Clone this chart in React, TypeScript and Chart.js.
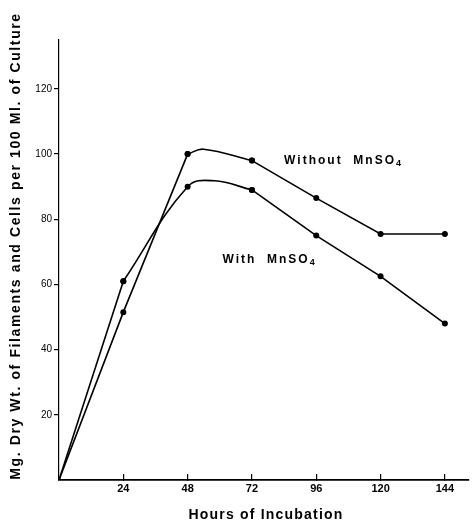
import React, { useEffect, useRef } from 'react';
import { Chart, registerables } from 'chart.js';

Chart.register(...registerables);

// ---- data ----
const hours = [0, 24, 48, 72, 96, 120, 144];
const withoutMnSO4 = [0, 51.5, 100, 98, 86.5, 75.5, 75.5];
const withMnSO4 = [0, 61, 90, 89, 75, 62.5, 48];
// crest of the smooth arc drawn between the 48 h and 72 h points
const withoutCrest = [54, 101.5];
const withCrest = [58, 91.8];

const xTicks = [24, 48, 72, 96, 120, 144];
const yTicks = [20, 40, 60, 80, 100, 120];
const xMax = 153;
const yMax = 135;

const xTitle = 'Hours of Incubation';
const yTitle = 'Mg. Dry Wt. of Filaments and Cells per 100 Ml. of Culture';
const labelWithout = ['Without  MnSO', '4'];
const labelWith = ['With  MnSO', '4'];
const labelWithoutAt = [84, 98];
const labelWithAt = [61, 67.5];

const FONT = "'Liberation Sans', Arial, sans-serif";
const INK = '#000';

type P = { x: number; y: number; crest?: boolean };

function pts(series: number[], from: number, to: number): P[] {
  const out: P[] = [];
  for (let i = from; i <= to; i++) out.push({ x: hours[i], y: series[i] });
  return out;
}

function crestPt(c: number[]): P {
  return { x: c[0], y: c[1], crest: true };
}

const radius = (ctx: any) => {
  const r = ctx.raw as P;
  return !r || r.crest || r.x === 0 ? 0 : 3;
};

function lineDs(data: P[], tension: number) {
  return {
    data,
    showLine: true,
    tension,
    borderColor: INK,
    borderWidth: 1.6,
    backgroundColor: INK,
    pointBackgroundColor: INK,
    pointBorderColor: INK,
    pointBorderWidth: 0,
    pointRadius: radius,
  };
}

function drawSpaced(ctx: CanvasRenderingContext2D, text: string, cx: number, cy: number, width: number) {
  (ctx as any).letterSpacing = '0px';
  const w0 = ctx.measureText(text).width;
  const n = Math.max(text.length - 1, 1);
  const ls = (width - w0) / n;
  (ctx as any).letterSpacing = ls.toFixed(2) + 'px';
  const w = ctx.measureText(text).width;
  ctx.textAlign = 'left';
  ctx.fillText(text, cx - w / 2, cy);
  (ctx as any).letterSpacing = '0px';
}

const textPlugin = {
  id: 'figureText',
  afterDraw(chart: any) {
    const { ctx, scales } = chart;
    const xs = scales.x;
    const ys = scales.y;
    ctx.save();
    ctx.fillStyle = INK;
    ctx.textBaseline = 'middle';

    // y axis title (rotated)
    ctx.save();
    ctx.translate(16, 246);
    ctx.rotate(-Math.PI / 2);
    ctx.font = `bold 14px ${FONT}`;
    drawSpaced(ctx, yTitle, 0, 0, 466);
    ctx.restore();

    // x axis title
    ctx.font = `bold 14px ${FONT}`;
    drawSpaced(ctx, xTitle, 266, 515, 154);

    // curve labels
    const drawLabel = (parts: string[], at: number[]) => {
      const px = xs.getPixelForValue(at[0]);
      const py = ys.getPixelForValue(at[1]);
      ctx.textAlign = 'left';
      ctx.font = `bold 12px ${FONT}`;
      (ctx as any).letterSpacing = '2px';
      ctx.fillText(parts[0], px, py);
      const w = ctx.measureText(parts[0]).width;
      ctx.font = `bold 9px ${FONT}`;
      (ctx as any).letterSpacing = '0px';
      ctx.fillText(parts[1], px + w, py + 3);
    };
    drawLabel(labelWithout, labelWithoutAt);
    drawLabel(labelWith, labelWithAt);
    ctx.restore();
  },
};

export default function App() {
  const ref = useRef<HTMLCanvasElement | null>(null);

  useEffect(() => {
    if (!ref.current) return;
    const datasets = [
      // Without MnSO4
      lineDs(pts(withoutMnSO4, 0, 2), 0),
      lineDs([{ x: hours[2], y: withoutMnSO4[2] }, crestPt(withoutCrest), { x: hours[3], y: withoutMnSO4[3] }], 0.4),
      lineDs(pts(withoutMnSO4, 3, 6), 0),
      // With MnSO4
      lineDs(pts(withMnSO4, 0, 1), 0),
      lineDs(
        [
          { x: hours[1], y: withMnSO4[1] },
          { x: hours[2], y: withMnSO4[2] },
          crestPt(withCrest),
          { x: hours[3], y: withMnSO4[3] },
        ],
        0.4
      ),
      lineDs(pts(withMnSO4, 3, 6), 0),
    ];

    const chart = new Chart(ref.current, {
      type: 'scatter',
      data: { datasets: datasets as any },
      plugins: [textPlugin as any],
      options: {
        animation: false,
        responsive: false,
        devicePixelRatio: 1,
        layout: { padding: { top: 40, left: 0, right: 0, bottom: 0 } },
        plugins: { legend: { display: false }, tooltip: { enabled: false } },
        scales: {
          x: {
            type: 'linear',
            min: 0,
            max: xMax,
            afterBuildTicks: (s: any) => {
              s.ticks = xTicks.map((v) => ({ value: v }));
            },
            afterFit: (s: any) => {
              s.height = 43;
              s.paddingLeft = 0;
              s.paddingRight = 0;
            },
            grid: {
              drawOnChartArea: false,
              drawTicks: true,
              tickLength: -6,
              color: INK,
              lineWidth: 1.2,
            },
            border: { color: INK, width: 1.8 },
            ticks: {
              color: INK,
              padding: 8.5,
              maxRotation: 0,
              autoSkip: false,
              font: { family: FONT, size: 11, weight: 'bold' },
            },
          },
          y: {
            type: 'linear',
            min: 0,
            max: yMax,
            afterBuildTicks: (s: any) => {
              s.ticks = yTicks.map((v) => ({ value: v }));
            },
            afterFit: (s: any) => {
              s.width = 59;
              s.paddingTop = 0;
              s.paddingBottom = 0;
            },
            grid: {
              drawOnChartArea: false,
              drawTicks: true,
              tickLength: 5,
              color: INK,
              lineWidth: 1.2,
            },
            border: { color: INK, width: 1.2 },
            ticks: {
              color: INK,
              padding: 2,
              autoSkip: false,
              font: { family: FONT, size: 10 },
            },
          },
        },
      } as any,
    });
    return () => chart.destroy();
  }, []);

  return (
    <div style={{ position: 'absolute', left: 0, top: 0, width: 473, height: 523, background: '#fff' }}>
      <canvas ref={ref} width={473} height={523} style={{ width: 473, height: 523, display: 'block' }} />
    </div>
  );
}
